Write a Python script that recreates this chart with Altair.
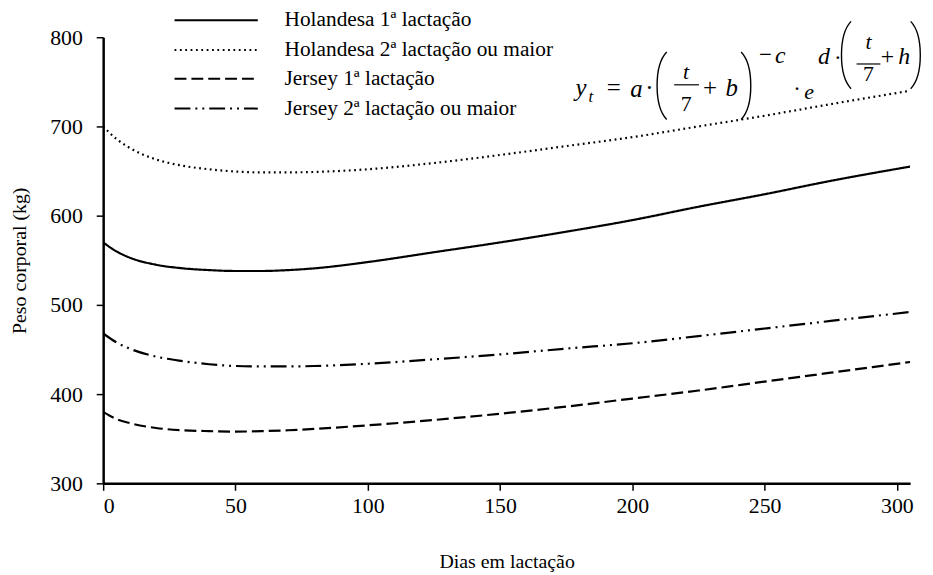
import altair as alt
import pandas as pd

# ---------------- data ----------------
days = [0, 5, 10, 20, 30, 40, 50, 60, 70, 80, 100, 125, 150, 175, 200, 225, 250, 275, 305]
hol_1 = [570, 560, 553, 545, 541, 539, 538, 538, 539, 541, 548, 559, 570, 582, 595, 610, 624, 639, 655]
hol_2 = [700, 686, 676, 663, 656, 652, 649.5, 648.5, 648.5, 649, 652, 659, 668, 678, 688, 700, 712, 725, 740]
jer_1 = [380, 372, 367.5, 362, 359.5, 358.5, 358, 358.5, 359.5, 361, 365, 371, 378, 386, 395, 404, 414, 424, 436]
jer_2 = [468, 458, 451, 442, 437, 433.5, 431.5, 431, 431, 431.5, 434, 439, 444.5, 451, 457, 465, 473.5, 482, 492]

series_names = [
    "Holandesa 1ª lactação",
    "Holandesa 2ª lactação ou maior",
    "Jersey 1ª lactação",
    "Jersey 2ª lactação ou maior",
]
series_values = [hol_1, hol_2, jer_1, jer_2]
dashes = [[1, 0], [1.8, 3.6], [12, 5], [16, 5, 2, 5, 2, 5]]

x_ticks = [0, 50, 100, 150, 200, 250, 300]
y_ticks = [300, 400, 500, 600, 700, 800]

FONT = "Liberation Serif"
W, H = 814, 450

x_scale = alt.Scale(domain=[0, 305], nice=False, zero=False)
y_scale = alt.Scale(domain=[300, 800], nice=False, zero=False)

layers = []
for i, (name, vals) in enumerate(zip(series_names, series_values)):
    df = pd.DataFrame({"Dias": days, "Peso": vals, "Serie": name})
    if i == 0:
        enc = dict(
            x=alt.X("Dias:Q", scale=x_scale,
                    axis=alt.Axis(values=x_ticks, title="Dias em lactação",
                                  titleX=W / 2, titleY=79, titleBaseline="middle",
                                  titleAlign="center", labelPadding=5)),
            y=alt.Y("Peso:Q", scale=y_scale,
                    axis=alt.Axis(values=y_ticks, title="Peso corporal (kg)",
                                  titleX=-84, titleY=H / 2, titleAngle=-90,
                                  titleBaseline="middle", titleAlign="center",
                                  labelPadding=14)),
        )
    else:
        enc = dict(x=alt.X("Dias:Q", scale=x_scale), y=alt.Y("Peso:Q", scale=y_scale))
    layers.append(
        alt.Chart(df).mark_line(color="black", strokeWidth=2.2,
                                strokeDash=dashes[i], interpolate="monotone",
                                clip=True).encode(**enc)
    )

# ---------------- legend (drawn in the upper area) ----------------
leg_rows = [-17, 13, 42, 72]
for i, name in enumerate(series_names):
    layers.append(
        alt.Chart(pd.DataFrame({"k": [0]})).mark_rule(
            color="black", strokeWidth=2, strokeDash=dashes[i]
        ).encode(x=alt.value(72), x2=alt.value(156), y=alt.value(leg_rows[i]))
    )
    layers.append(
        alt.Chart(pd.DataFrame({"t": [name]})).mark_text(
            font=FONT, fontSize=21.5, align="left", baseline="middle", color="black"
        ).encode(x=alt.value(183), y=alt.value(leg_rows[i]), text="t:N")
    )

# ---------------- formula ----------------
ox, oy = 104, 35
f_italic = pd.DataFrame({
    "t": ["y", "t", "a", "t", "b", "c", "e", "d", "t", "h"],
    "px": [586, 596, 642, 692, 738, 787, 816, 831, 876, 912],
    "py": [86, 95, 87, 70, 86, 54, 90, 55, 40, 55],
    "fs": [25, 17, 25, 22, 25, 24, 22, 24, 22, 24],
})
f_italic["px"] = f_italic["px"] - ox
f_italic["py"] = f_italic["py"] - oy
f_upright = pd.DataFrame({
    "t": ["=", "·", "7", "+", "−", "·", "·", "7", "+"],
    "px": [619, 655, 692, 716, 772, 804, 845, 876, 895],
    "py": [86, 86, 102, 86, 53, 87, 56, 72, 55],
    "fs": [25, 25, 22, 25, 23, 23, 23, 22, 24],
})
f_upright["px"] = f_upright["px"] - ox
f_upright["py"] = f_upright["py"] - oy

for df, style in [(f_italic, "italic"), (f_upright, "normal")]:
    layers.append(
        alt.Chart(df).mark_text(font=FONT, fontStyle=style, align="center",
                                baseline="middle", color="black").encode(
            x=alt.X("px:Q", scale=None),
            y=alt.Y("py:Q", scale=None),
            text="t:N",
            size=alt.Size("fs:Q", scale=None, legend=None),
        )
    )

# big delimiters drawn as thin paths
paren_l = "M 0.16 -1 C -0.22 -0.6 -0.22 0.6 0.16 1"
paren_r = "M -0.16 -1 C 0.22 -0.6 0.22 0.6 -0.16 1"
parens = [
    (paren_l, 667, 84), (paren_r, 753, 84),
    (paren_l, 853, 53), (paren_r, 924, 53),
]
for shp, px, py in parens:
    layers.append(
        alt.Chart(pd.DataFrame({"k": [0]})).mark_point(
            shape=shp, filled=False, color="black", strokeWidth=1.4, opacity=1,
            size=68 * 68,
        ).encode(x=alt.value(px - ox), y=alt.value(py - oy))
    )

bars = pd.DataFrame({"x1": [680 - ox, 864 - ox], "x2": [705 - ox, 888 - ox],
                     "y": [83 - oy, 62 - oy]})
layers.append(
    alt.Chart(bars).mark_rule(color="black", strokeWidth=1.2).encode(
        x=alt.X("x1:Q", scale=None), x2="x2:Q", y=alt.Y("y:Q", scale=None)
    )
)

chart = alt.layer(*layers).properties(
    width=W, height=H,
    autosize=alt.AutoSizeParams(type="none"),
    padding={"left": 96, "top": 27, "right": 15, "bottom": 90},
).configure_view(stroke=None).configure_axis(
    grid=False,
    domainColor="black", domainWidth=2.5,
    tickColor="black", tickWidth=1.5, tickSize=7,
    labelFont=FONT, labelFontSize=22, labelColor="black",
    titleFont=FONT, titleFontSize=20, titleColor="black", titleFontWeight="normal",
)

chart.save("out.html", embed_options={"renderer": "svg", "actions": False})
